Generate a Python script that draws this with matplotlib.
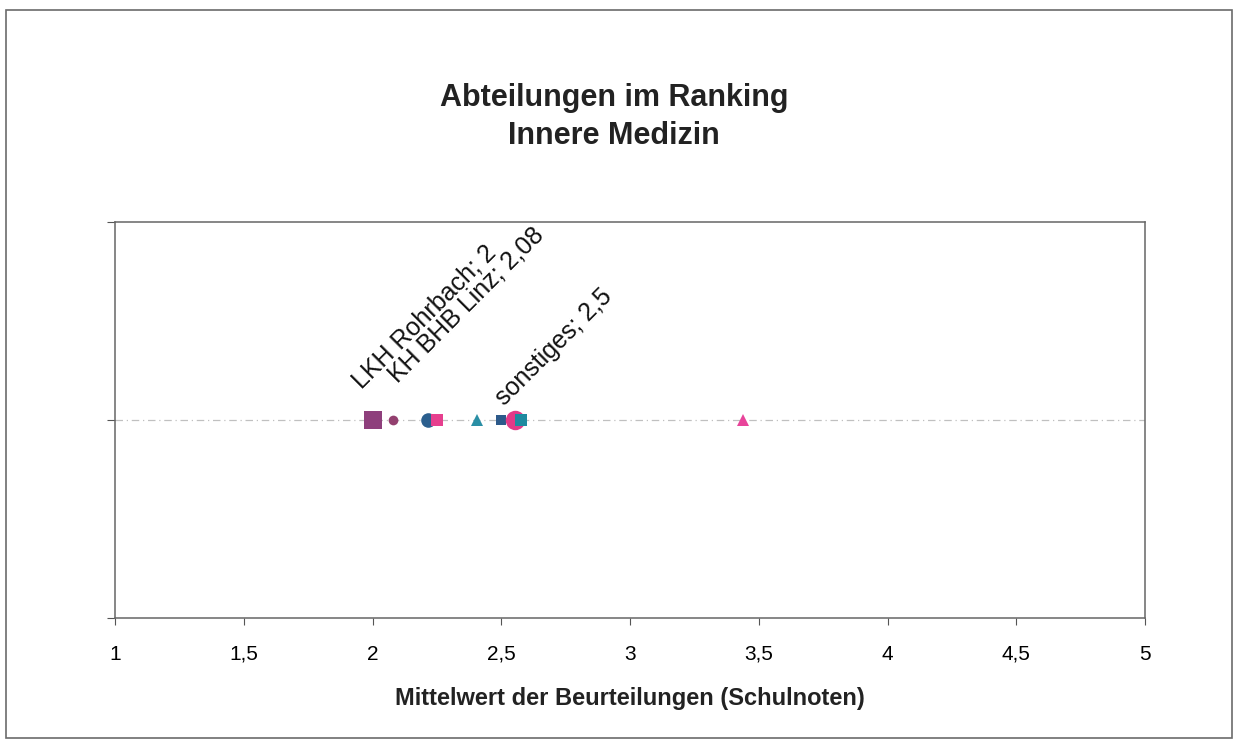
import matplotlib
matplotlib.use("Agg")
import matplotlib.pyplot as plt
from matplotlib.patches import Rectangle

plt.rcParams['font.family'] = ['Liberation Sans', 'DejaVu Sans']

# Mittelwerte der Abteilungen (Schulnoten)
werte = [2.00, 2.08, 2.215, 2.25, 2.405, 2.50, 2.555, 2.575, 3.44]
marker = ['s', 'o', 'o', 's', '^', 's', 'o', 's', '^']
farben = ['#8e3f7c', '#93406f', '#2b5f8e', '#e63f8e', '#2a8fa5',
          '#2d5a8a', '#e23a88', '#1f8aa0', '#e8449a']
groessen = [13, 7, 10.5, 8, 8.5, 7, 14, 8, 8]
labels = ['LKH Rohrbach; 2', 'KH BHB Linz; 2,08', '', '', '',
          'sonstiges; 2,5', '', '', '']
label_offset = {0: (-8, 22), 1: (3, 26), 5: (2, 10)}

xticks = [1, 1.5, 2, 2.5, 3, 3.5, 4, 4.5, 5]
xticklabels = ['1', '1,5', '2', '2,5', '3', '3,5', '4', '4,5', '5']

fig = plt.figure(figsize=(12.35, 7.42), dpi=100)
ax = fig.add_axes([115/1235, 1 - 618/742, 1030/1235, 396/742])

# Rahmen um das ganze Diagramm
fig.patches.append(Rectangle((6/1235, 1 - 738/742), 1226/1235, 728/742,
                             transform=fig.transFigure, fill=False,
                             edgecolor='#6b6b6b', linewidth=1.2))

ax.axhline(1, color='#c0c0c0', linewidth=0.9, linestyle=(0, (6, 3, 1, 3)), zorder=1)

for i, (x, m, c, s) in enumerate(zip(werte, marker, farben, groessen)):
    ax.plot([x], [1], marker=m, color=c, markersize=s, markeredgewidth=0,
            linestyle='none', zorder=3 + i)
    if labels[i]:
        ax.annotate(labels[i], xy=(x, 1), xytext=label_offset[i],
                    textcoords='offset points', rotation=45,
                    rotation_mode='anchor', ha='left', va='baseline',
                    fontsize=18, color='#111111')

ax.set_xlim(1, 5)
ax.set_ylim(0, 2)
ax.set_xticks(xticks)
ax.set_xticklabels(xticklabels, fontsize=15)
for lbl in ax.get_xticklabels():
    lbl.set_verticalalignment('baseline')
ax.set_yticks([0, 1, 2])
ax.set_yticklabels([])
ax.tick_params(axis='x', direction='out', length=5, pad=25, color='#555555')
ax.tick_params(axis='y', direction='out', length=6, color='#555555')
for sp in ax.spines.values():
    sp.set_color('#666666')
    sp.set_linewidth(1.1)

ax.set_xlabel('Mittelwert der Beurteilungen (Schulnoten)', fontsize=17,
              fontweight='bold', labelpad=17, color='#222222')

fig.text(614/1235, 1 - 117/742, 'Abteilungen im Ranking\nInnere Medizin',
         ha='center', va='center', fontsize=22, fontweight='bold',
         color='#222222', linespacing=1.38)

fig.savefig('out.png', dpi=100)
